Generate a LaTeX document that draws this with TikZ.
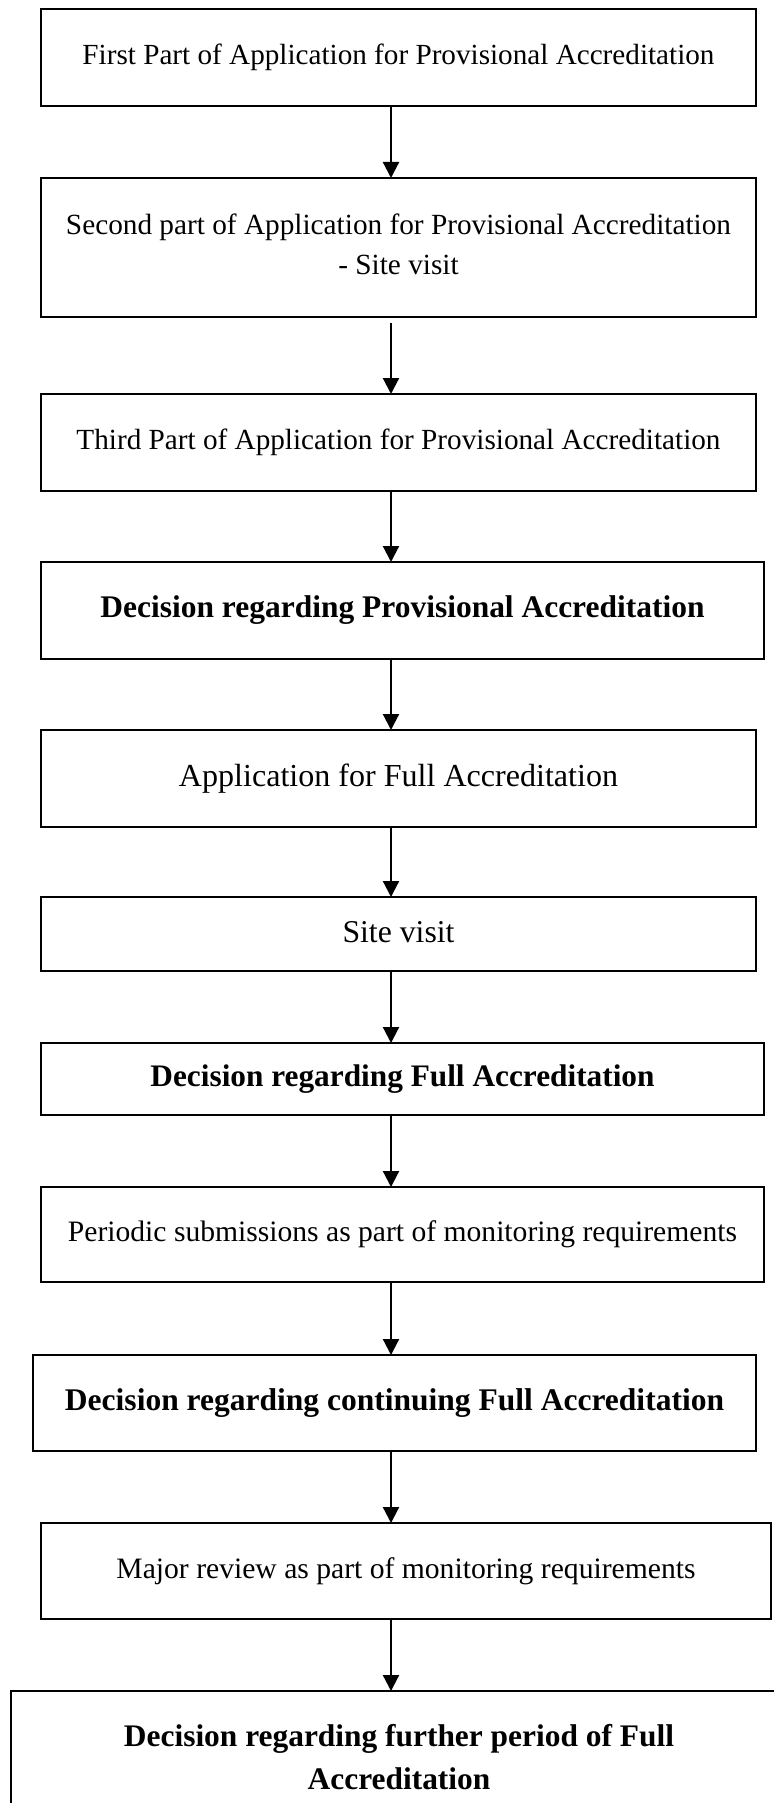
\documentclass[tikz,border=0pt]{standalone}
\usepackage{fontspec}
\setmainfont{Liberation Serif}
\usepackage{graphicx}
\usetikzlibrary{arrows.meta}
\begin{document}
\begin{tikzpicture}[x=0.5pt,y=-0.5pt,
  stepbox/.style={draw, line width=1pt, inner sep=0pt, outer sep=0pt, align=center},
  arr/.style={-{Triangle[length=8pt,width=8pt]}, line width=1.1pt}]
\useasboundingbox (0,0) rectangle (774,1803);
\coordinate (ax) at (391,0);

\node[stepbox, minimum width=357.5pt, minimum height=48.5pt] (b1) at (398.5,57.5)
  {\resizebox{316pt}{!}{First Part of Application for Provisional Accreditation}};
\node[stepbox, minimum width=357.5pt, minimum height=69.5pt] (b2) at (398.5,247.5)
  {\raisebox{2.25pt}{\resizebox{332.5pt}{!}{\begin{tabular}{@{}c@{}}Second part of Application for Provisional Accreditation\\[1.5pt]- Site visit\end{tabular}}}};
\node[stepbox, minimum width=357.5pt, minimum height=48.5pt] (b3) at (398.5,442.5)
  {\resizebox{322pt}{!}{Third Part of Application for Provisional Accreditation}};
\node[stepbox, minimum width=361.5pt, minimum height=48.5pt] (b4) at (402.5,610.5)
  {\resizebox{302pt}{!}{\bfseries Decision regarding Provisional Accreditation}};
\node[stepbox, minimum width=357.5pt, minimum height=48.5pt] (b5) at (398.5,778.5)
  {\resizebox{219.5pt}{!}{Application for Full Accreditation}};
\node[stepbox, minimum width=357.5pt, minimum height=37pt] (b6) at (398.5,934)
  {\raisebox{2.5pt}{\resizebox{56pt}{!}{Site visit}}};
\node[stepbox, minimum width=361.5pt, minimum height=36pt] (b7) at (402.5,1079)
  {\resizebox{252pt}{!}{\bfseries Decision regarding Full Accreditation}};
\node[stepbox, minimum width=361.5pt, minimum height=47.5pt] (b8) at (402.5,1234.5)
  {\resizebox{334.5pt}{!}{Periodic submissions as part of monitoring requirements}};
\node[stepbox, minimum width=361.5pt, minimum height=48pt] (b9) at (394.5,1403)
  {\resizebox{329.5pt}{!}{\bfseries Decision regarding continuing Full Accreditation}};
\node[stepbox, minimum width=365pt, minimum height=48pt] (b10) at (406,1571)
  {\resizebox{289.5pt}{!}{Major review as part of monitoring requirements}};
\node[stepbox, minimum width=388pt, minimum height=69.5pt] (b11) at (399,1760.5)
  {\raisebox{1.25pt}{\resizebox{275pt}{!}{\bfseries\begin{tabular}{@{}c@{}}Decision regarding further period of Full\\[1.5pt]Accreditation\end{tabular}}}};

\draw[arr] (b1.south -| ax) -- (b2.north -| ax);
\draw[arr, shorten <=3pt] (b2.south -| ax) -- (b3.north -| ax);
\draw[arr] (b3.south -| ax) -- (b4.north -| ax);
\draw[arr] (b4.south -| ax) -- (b5.north -| ax);
\draw[arr] (b5.south -| ax) -- (b6.north -| ax);
\draw[arr] (b6.south -| ax) -- (b7.north -| ax);
\draw[arr] (b7.south -| ax) -- (b8.north -| ax);
\draw[arr] (b8.south -| ax) -- (b9.north -| ax);
\draw[arr] (b9.south -| ax) -- (b10.north -| ax);
\draw[arr] (b10.south -| ax) -- (b11.north -| ax);
\end{tikzpicture}
\end{document}
